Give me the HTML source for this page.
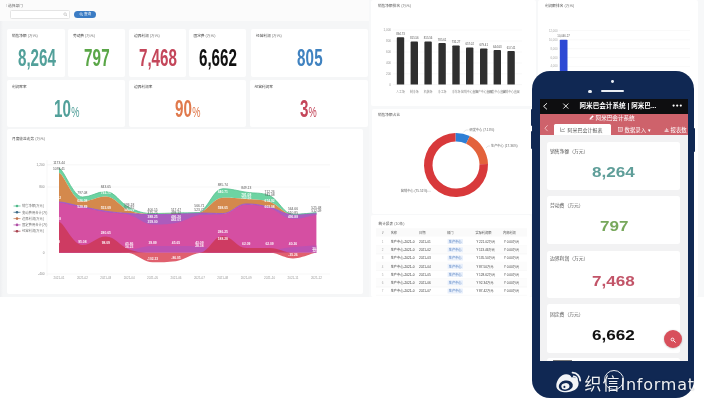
<!DOCTYPE html>
<html><head><meta charset="utf-8">
<style>
*{margin:0;padding:0;box-sizing:border-box}
html,body{width:704px;height:400px;overflow:hidden;background:#fff}
body{position:relative;font-family:"Liberation Sans","Noto Sans CJK SC",sans-serif;color:#333}
.a{position:absolute}
.card{position:absolute;background:#fff;border-radius:2px}
.lbl{position:absolute;font-size:3.7px;line-height:5px;color:#444;white-space:nowrap}
.lbl i{font-style:normal;color:#777}
.num{position:absolute;font-family:"Liberation Sans",sans-serif;font-weight:bold;font-size:23px;line-height:23px;letter-spacing:0.2px;white-space:nowrap;transform-origin:0 0}
.t{position:absolute;white-space:nowrap}
.cm{letter-spacing:-0.6px}
</style></head><body>

<!-- LEFT DASHBOARD -->
<div class="a" style="left:0;top:0;width:369px;height:297px;background:#f5f6f7"></div>
<div class="a" style="left:0;top:21px;width:3px;height:276px;background:linear-gradient(90deg,#eeeff1,#f5f6f7)"></div>
<div class="a" style="left:0;top:0;width:369px;height:21px;background:#fbfbfb"></div>
<div class="lbl" style="left:6px;top:3.6px;font-size:3.7px;color:#666"><span style="color:#999">\</span> 选择部门</div>
<div class="a" style="left:10px;top:10px;width:60px;height:8.5px;background:#fff;border:0.6px solid #e4e4e4;border-radius:1.5px"></div>
<svg class="a" style="left:62.5px;top:12px" width="5" height="5" viewBox="0 0 5 5"><circle cx="2.1" cy="2.1" r="1.3" fill="none" stroke="#aaa" stroke-width="0.5"/><path d="M3.1 3.1 L4.1 4.1" stroke="#aaa" stroke-width="0.6"/></svg>
<div class="a" style="left:74px;top:10.5px;width:21.5px;height:7.3px;background:#3b7cc4;border-radius:4px"></div>
<svg class="a" style="left:79px;top:12.3px" width="5" height="5" viewBox="0 0 5 5"><circle cx="2" cy="2" r="1.2" fill="none" stroke="#fff" stroke-width="0.5"/><path d="M2.9 2.9 L3.8 3.8" stroke="#fff" stroke-width="0.6"/></svg><div class="t" style="left:84px;top:12.2px;font-size:3.6px;line-height:4px;color:#fff">查询</div>

<!-- row 1 cards -->
<div class="card" style="left:7px;top:28.5px;width:58px;height:48.5px"></div>
<div class="card" style="left:68px;top:28.5px;width:57px;height:48.5px"></div>
<div class="card" style="left:129px;top:28.5px;width:57px;height:48.5px"></div>
<div class="card" style="left:188.5px;top:28.5px;width:57.5px;height:48.5px"></div>
<div class="card" style="left:251px;top:28.5px;width:117px;height:48.5px"></div>

<div class="lbl" style="left:12px;top:33.5px">销售净额 <i>(万元)</i></div>
<div class="lbl" style="left:73px;top:33.5px">劳动费 <i>(万元)</i></div>
<div class="lbl" style="left:134px;top:33.5px">边界利润 <i>(万元)</i></div>
<div class="lbl" style="left:193.5px;top:33.5px">固定费 <i>(万元)</i></div>
<div class="lbl" style="left:256px;top:33.5px">经营利润 <i>(万元)</i></div>

<div class="num" style="left:18px;top:46.9px;color:#52a09a;transform:scaleX(0.66)">8<span class="cm">,</span>264</div>
<div class="num" style="left:84px;top:46.9px;color:#5aa647;transform:scaleX(0.66)">797</div>
<div class="num" style="left:139px;top:46.9px;color:#c4465a;transform:scaleX(0.66)">7<span class="cm">,</span>468</div>
<div class="num" style="left:199px;top:46.9px;color:#111;transform:scaleX(0.66)">6<span class="cm">,</span>662</div>
<div class="num" style="left:296.5px;top:46.9px;color:#3f82c0;transform:scaleX(0.66)">805</div>

<!-- row 2 cards -->
<div class="card" style="left:7px;top:79.5px;width:118px;height:47.5px"></div>
<div class="card" style="left:129px;top:79.5px;width:117px;height:47.5px"></div>
<div class="card" style="left:249.5px;top:79.5px;width:118.5px;height:47.5px"></div>
<div class="lbl" style="left:12px;top:84.5px">利润率率</div>
<div class="lbl" style="left:134px;top:84.5px">边界利润率</div>
<div class="lbl" style="left:254.5px;top:84.5px">经营利润率</div>
<div class="num" style="left:53.5px;top:98.2px;color:#52a09a;transform:scaleX(0.66)">10<span style="font-size:14px;font-weight:normal;letter-spacing:0">%</span></div>
<div class="num" style="left:175px;top:98.2px;color:#e0794c;transform:scaleX(0.66)">90<span style="font-size:14px;font-weight:normal;letter-spacing:0">%</span></div>
<div class="num" style="left:299.5px;top:98.2px;color:#c4465a;transform:scaleX(0.66)">3<span style="font-size:14px;font-weight:normal;letter-spacing:0">%</span></div>

<!-- chart card -->
<div class="card" style="left:7px;top:129px;width:355.5px;height:164.5px"></div>
<div class="lbl" style="left:12px;top:137px">月度收益走势 <i>(万元)</i></div>
<svg class="a" style="left:0;top:0" width="369" height="297" viewBox="0 0 369 297">
 <g stroke="#eee" stroke-width="0.5">
  <line x1="47" y1="164.8" x2="330" y2="164.8"/>
  <line x1="47" y1="187" x2="330" y2="187"/>
  <line x1="47" y1="274" x2="330" y2="274"/>
  <line x1="47" y1="160" x2="47" y2="276"/>
 </g>
<path d="M59.0 168.5 C63.7 168.5 73.0 197.0 82.4 197.0 C91.8 197.0 96.4 191.6 105.8 191.6 C115.2 191.6 119.8 203.1 129.2 207.5 C138.6 211.9 143.2 213.5 152.6 213.5 C162.0 213.5 166.6 213.2 176.0 213.0 C185.4 212.8 190.0 213.0 199.4 212.6 C208.8 207.7 213.4 188.7 222.8 188.7 C232.2 188.7 236.8 190.8 246.2 192.2 C255.6 193.6 260.2 192.2 269.6 195.6 C279.0 200.0 283.6 214.3 293.0 214.3 C302.4 214.3 311.7 212.8 316.4 212.8 L316.4 213.0 C311.7 213.0 302.4 214.5 293.0 214.5 C283.6 214.5 279.0 204.9 269.6 201.8 C260.2 199.0 255.6 199.8 246.2 199.0 C236.8 198.2 232.2 197.7 222.8 197.7 C213.4 197.7 208.8 209.7 199.4 212.8 C190.0 213.3 185.4 213.1 176.0 213.3 C166.6 213.5 162.0 213.8 152.6 213.8 C143.2 213.8 138.6 213.8 129.2 210.5 C119.8 207.0 115.2 196.4 105.8 196.4 C96.4 196.4 91.8 201.2 82.4 201.2 C73.0 201.2 63.7 173.0 59.0 173.0 Z" fill="#6dd3a2" fill-opacity="1.00"/>
<path d="M59.0 173.0 C63.7 173.0 73.0 201.2 82.4 201.2 C91.8 201.2 96.4 196.4 105.8 196.4 C115.2 196.4 119.8 207.0 129.2 210.5 C138.6 213.8 143.2 213.8 152.6 213.8 C162.0 213.8 166.6 213.5 176.0 213.3 C185.4 213.1 190.0 213.3 199.4 212.8 C208.8 209.7 213.4 197.7 222.8 197.7 C232.2 197.7 236.8 198.2 246.2 199.0 C255.6 199.8 260.2 199.0 269.6 201.8 C279.0 204.9 283.6 214.5 293.0 214.5 C302.4 214.5 311.7 213.0 316.4 213.0 L316.4 213.2 C311.7 213.2 302.4 214.7 293.0 214.7 C283.6 214.7 279.0 209.5 269.6 207.3 C260.2 205.1 255.6 203.9 246.2 203.9 C236.8 203.9 232.2 213.5 222.8 213.5 C213.4 213.5 208.8 213.0 199.4 213.0 C190.0 213.0 185.4 213.7 176.0 214.0 C166.6 214.3 162.0 214.5 152.6 214.5 C143.2 214.5 138.6 214.2 129.2 213.5 C119.8 212.8 115.2 212.6 105.8 211.2 C96.4 209.8 91.8 208.5 82.4 206.7 C73.0 204.9 63.7 202.0 59.0 202.0 Z" fill="#d4894c" fill-opacity="1.00"/>
<path d="M59.0 202.0 C63.7 202.0 73.0 204.9 82.4 206.7 C91.8 208.5 96.4 209.8 105.8 211.2 C115.2 212.6 119.8 212.8 129.2 213.5 C138.6 214.2 143.2 214.5 152.6 214.5 C162.0 214.5 166.6 214.3 176.0 214.0 C185.4 213.7 190.0 213.0 199.4 213.0 C208.8 213.0 213.4 213.5 222.8 213.5 C232.2 213.5 236.8 203.9 246.2 203.9 C255.6 203.9 260.2 205.1 269.6 207.3 C279.0 209.5 283.6 214.7 293.0 214.7 C302.4 214.7 311.7 213.2 316.4 213.2 L316.4 252.7 C311.7 252.7 302.4 252.7 293.0 252.7 C283.6 252.7 279.0 252.7 269.6 252.7 C260.2 252.7 255.6 252.7 246.2 252.7 C236.8 252.7 232.2 252.7 222.8 252.7 C213.4 252.7 208.8 252.7 199.4 252.7 C190.0 252.7 185.4 252.7 176.0 252.7 C166.6 252.7 162.0 252.7 152.6 252.7 C143.2 252.7 138.6 252.7 129.2 252.7 C119.8 252.7 115.2 252.7 105.8 252.7 C96.4 252.7 91.8 252.7 82.4 252.7 C73.0 252.7 63.7 252.7 59.0 252.7 Z" fill="#d54fa2" fill-opacity="1.00"/>
<path d="M59.0 202.0 C63.7 202.0 73.0 204.9 82.4 206.7 C91.8 208.5 96.4 209.8 105.8 211.2 C115.2 212.6 119.8 212.8 129.2 213.5 C138.6 214.2 143.2 214.5 152.6 214.5 C162.0 214.5 166.6 214.3 176.0 214.0 C185.4 213.7 190.0 213.0 199.4 213.0 C208.8 213.0 213.4 213.5 222.8 213.5 C232.2 213.5 236.8 203.9 246.2 203.9 C255.6 203.9 260.2 205.1 269.6 207.3 C279.0 209.5 283.6 214.7 293.0 214.7 C302.4 214.7 311.7 213.2 316.4 213.2 L316.4 215.0 C311.7 215.0 302.4 219.0 293.0 219.0 C283.6 219.0 279.0 211.0 269.6 208.1 C260.2 205.2 255.6 204.7 246.2 204.7 C236.8 204.7 232.2 212.2 222.8 214.3 C213.4 215.0 208.8 214.3 199.4 215.0 C190.0 216.7 185.4 221.1 176.0 223.0 C166.6 224.5 162.0 224.5 152.6 224.5 C143.2 224.5 138.6 217.3 129.2 214.8 C119.8 212.3 115.2 213.5 105.8 212.0 C96.4 210.5 91.8 209.3 82.4 207.5 C73.0 205.7 63.7 202.8 59.0 202.8 Z" fill="#a55ec2" fill-opacity="0.85"/>
<path d="M59.0 252.0 C63.7 252.0 73.0 252.0 82.4 252.0 C91.8 252.0 96.4 252.0 105.8 252.0 C115.2 252.0 119.8 251.2 129.2 250.0 C138.6 248.8 143.2 246.0 152.6 246.0 C162.0 246.0 166.6 246.0 176.0 246.0 C185.4 246.0 190.0 246.0 199.4 246.5 C208.8 247.3 213.4 250.0 222.8 250.0 C232.2 250.0 236.8 250.0 246.2 250.0 C255.6 250.0 260.2 250.0 269.6 250.0 C279.0 250.0 283.6 247.9 293.0 247.0 C302.4 246.1 311.7 245.5 316.4 245.5 L316.4 252.7 C311.7 252.7 302.4 252.7 293.0 252.7 C283.6 252.7 279.0 252.7 269.6 252.7 C260.2 252.7 255.6 252.7 246.2 252.7 C236.8 252.7 232.2 252.7 222.8 252.7 C213.4 252.7 208.8 252.7 199.4 252.7 C190.0 252.7 185.4 252.7 176.0 252.7 C166.6 252.7 162.0 252.7 152.6 252.7 C143.2 252.7 138.6 252.7 129.2 252.7 C119.8 252.7 115.2 252.7 105.8 252.7 C96.4 252.7 91.8 252.7 82.4 252.7 C73.0 252.7 63.7 252.7 59.0 252.7 Z" fill="#b653b6" fill-opacity="0.80"/>
<path d="M59.0 222.0 C63.7 222.0 73.0 245.0 82.4 245.0 C91.8 245.0 96.4 236.5 105.8 236.5 C115.2 236.5 119.8 246.3 129.2 249.5 C138.6 252.7 143.2 252.7 152.6 252.7 C162.0 252.7 166.6 252.7 176.0 252.7 C185.4 252.7 190.0 252.7 199.4 252.7 C208.8 252.7 213.4 236.0 222.8 236.0 C232.2 236.0 236.8 248.0 246.2 248.0 C255.6 248.0 260.2 248.0 269.6 248.0 C279.0 248.0 283.6 252.7 293.0 252.7 C302.4 252.7 311.7 252.7 316.4 252.7 L316.4 252.7 C311.7 252.7 302.4 252.7 293.0 252.7 C283.6 252.7 279.0 252.7 269.6 252.7 C260.2 252.7 255.6 252.7 246.2 252.7 C236.8 252.7 232.2 252.7 222.8 252.7 C213.4 252.7 208.8 252.7 199.4 252.7 C190.0 252.7 185.4 252.7 176.0 252.7 C166.6 252.7 162.0 252.7 152.6 252.7 C143.2 252.7 138.6 252.7 129.2 252.7 C119.8 252.7 115.2 252.7 105.8 252.7 C96.4 252.7 91.8 252.7 82.4 252.7 C73.0 252.7 63.7 252.7 59.0 252.7 Z" fill="#cd3a5c" fill-opacity="0.92"/>
<path d="M59.0 252.7 C63.7 252.7 73.0 252.7 82.4 252.7 C91.8 252.7 96.4 252.7 105.8 252.7 C115.2 252.7 119.8 252.7 129.2 252.7 C138.6 252.7 143.2 252.7 152.6 252.7 C162.0 252.7 166.6 252.7 176.0 252.7 C185.4 252.7 190.0 252.7 199.4 252.7 C208.8 252.7 213.4 252.7 222.8 252.7 C232.2 252.7 236.8 252.7 246.2 252.7 C255.6 252.7 260.2 252.7 269.6 252.7 C279.0 252.7 283.6 252.7 293.0 252.7 C302.4 252.7 311.7 252.7 316.4 252.7 L316.4 252.7 C311.7 252.7 302.4 258.4 293.0 258.4 C283.6 258.4 279.0 252.7 269.6 252.7 C260.2 252.7 255.6 252.7 246.2 252.7 C236.8 252.7 232.2 252.7 222.8 252.7 C213.4 252.7 208.8 252.7 199.4 253.0 C190.0 254.7 185.4 259.4 176.0 261.2 C166.6 262.2 162.0 262.2 152.6 262.2 C143.2 262.2 138.6 254.9 129.2 253.0 C119.8 252.7 115.2 252.7 105.8 252.7 C96.4 252.7 91.8 252.7 82.4 252.7 C73.0 252.7 63.7 252.7 59.0 252.7 Z" fill="#e0606e" fill-opacity="1.00"/>
<path d="M59.0 202.0 C63.7 202.0 73.0 204.9 82.4 206.7 C91.8 208.5 96.4 209.8 105.8 211.2 C115.2 212.6 119.8 212.8 129.2 213.5 C138.6 214.2 143.2 214.5 152.6 214.5 C162.0 214.5 166.6 214.3 176.0 214.0 C185.4 213.7 190.0 213.0 199.4 213.0 C208.8 213.0 213.4 213.5 222.8 213.5 C232.2 213.5 236.8 203.9 246.2 203.9 C255.6 203.9 260.2 205.1 269.6 207.3 C279.0 209.5 283.6 214.7 293.0 214.7 C302.4 214.7 311.7 213.2 316.4 213.2" fill="none" stroke="#9b59c9" stroke-width="0.9"/>
<path d="M59.0 168.5 C63.7 168.5 73.0 197.0 82.4 197.0 C91.8 197.0 96.4 191.6 105.8 191.6 C115.2 191.6 119.8 203.1 129.2 207.5 C138.6 211.9 143.2 213.5 152.6 213.5 C162.0 213.5 166.6 213.2 176.0 213.0 C185.4 212.8 190.0 213.0 199.4 212.6 C208.8 207.7 213.4 188.7 222.8 188.7 C232.2 188.7 236.8 190.8 246.2 192.2 C255.6 193.6 260.2 192.2 269.6 195.6 C279.0 200.0 283.6 214.3 293.0 214.3 C302.4 214.3 311.7 212.8 316.4 212.8" fill="none" stroke="#56c08e" stroke-width="0.8"/>
<text x="56.0" y="199.1" font-size="3.3" fill="#fff" fill-opacity="0.92" font-weight="bold" text-anchor="middle" font-family="Liberation Sans">986.72</text>
<text x="56.0" y="220.1" font-size="3.3" fill="#fff" fill-opacity="0.92" font-weight="bold" text-anchor="middle" font-family="Liberation Sans">403.38</text>
<text x="56.0" y="243.1" font-size="3.3" fill="#fff" fill-opacity="0.92" font-weight="bold" text-anchor="middle" font-family="Liberation Sans">75.08</text>
<text x="82.4" y="201.6" font-size="3.3" fill="#fff" fill-opacity="0.92" font-weight="bold" text-anchor="middle" font-family="Liberation Sans">626.08</text>
<text x="82.4" y="207.5" font-size="3.3" fill="#fff" fill-opacity="0.92" font-weight="bold" text-anchor="middle" font-family="Liberation Sans">528.89</text>
<text x="82.4" y="243.1" font-size="3.3" fill="#fff" fill-opacity="0.92" font-weight="bold" text-anchor="middle" font-family="Liberation Sans">95.08</text>
<text x="105.8" y="193.5" font-size="3.3" fill="#fff" fill-opacity="0.92" font-weight="bold" text-anchor="middle" font-family="Liberation Sans">792.71</text>
<text x="105.8" y="209.1" font-size="3.3" fill="#fff" fill-opacity="0.92" font-weight="bold" text-anchor="middle" font-family="Liberation Sans">553.09</text>
<text x="105.8" y="234.1" font-size="3.3" fill="#fff" fill-opacity="0.92" font-weight="bold" text-anchor="middle" font-family="Liberation Sans">280.65</text>
<text x="105.8" y="243.9" font-size="3.3" fill="#fff" fill-opacity="0.92" font-weight="bold" text-anchor="middle" font-family="Liberation Sans">98.09</text>
<text x="129.2" y="211.4" font-size="3.3" fill="#fff" fill-opacity="0.92" font-weight="bold" text-anchor="middle" font-family="Liberation Sans">523.09</text>
<text x="129.2" y="244.6" font-size="3.3" fill="#fff" fill-opacity="0.92" font-weight="bold" text-anchor="middle" font-family="Liberation Sans">45.86</text>
<text x="129.2" y="247.8" font-size="3.3" fill="#fff" fill-opacity="0.92" font-weight="bold" text-anchor="middle" font-family="Liberation Sans">36.23</text>
<text x="152.6" y="217.9" font-size="3.3" fill="#fff" fill-opacity="0.92" font-weight="bold" text-anchor="middle" font-family="Liberation Sans">388.25</text>
<text x="152.6" y="222.8" font-size="3.3" fill="#fff" fill-opacity="0.92" font-weight="bold" text-anchor="middle" font-family="Liberation Sans">359.00</text>
<text x="152.6" y="243.9" font-size="3.3" fill="#fff" fill-opacity="0.92" font-weight="bold" text-anchor="middle" font-family="Liberation Sans">39.89</text>
<text x="152.6" y="259.5" font-size="3.3" fill="#fff" fill-opacity="0.92" font-weight="bold" text-anchor="middle" font-family="Liberation Sans">-102.23</text>
<text x="176.0" y="217.9" font-size="3.3" fill="#fff" fill-opacity="0.92" font-weight="bold" text-anchor="middle" font-family="Liberation Sans">496.26</text>
<text x="176.0" y="221.1" font-size="3.3" fill="#fff" fill-opacity="0.92" font-weight="bold" text-anchor="middle" font-family="Liberation Sans">482.05</text>
<text x="176.0" y="243.9" font-size="3.3" fill="#fff" fill-opacity="0.92" font-weight="bold" text-anchor="middle" font-family="Liberation Sans">45.65</text>
<text x="176.0" y="258.5" font-size="3.3" fill="#fff" fill-opacity="0.92" font-weight="bold" text-anchor="middle" font-family="Liberation Sans">-86.05</text>
<text x="199.4" y="210.6" font-size="3.3" fill="#fff" fill-opacity="0.92" font-weight="bold" text-anchor="middle" font-family="Liberation Sans">522.71</text>
<text x="199.4" y="244.1" font-size="3.3" fill="#fff" fill-opacity="0.92" font-weight="bold" text-anchor="middle" font-family="Liberation Sans">43.09</text>
<text x="199.4" y="247.1" font-size="3.3" fill="#fff" fill-opacity="0.92" font-weight="bold" text-anchor="middle" font-family="Liberation Sans">28.38</text>
<text x="222.8" y="193.1" font-size="3.3" fill="#fff" fill-opacity="0.92" font-weight="bold" text-anchor="middle" font-family="Liberation Sans">840.71</text>
<text x="222.8" y="208.6" font-size="3.3" fill="#fff" fill-opacity="0.92" font-weight="bold" text-anchor="middle" font-family="Liberation Sans">598.05</text>
<text x="222.8" y="233.1" font-size="3.3" fill="#fff" fill-opacity="0.92" font-weight="bold" text-anchor="middle" font-family="Liberation Sans">286.25</text>
<text x="222.8" y="240.1" font-size="3.3" fill="#fff" fill-opacity="0.92" font-weight="bold" text-anchor="middle" font-family="Liberation Sans">188.28</text>
<text x="246.2" y="195.6" font-size="3.3" fill="#fff" fill-opacity="0.92" font-weight="bold" text-anchor="middle" font-family="Liberation Sans">781.08</text>
<text x="246.2" y="199.1" font-size="3.3" fill="#fff" fill-opacity="0.92" font-weight="bold" text-anchor="middle" font-family="Liberation Sans">753.56</text>
<text x="246.2" y="244.6" font-size="3.3" fill="#fff" fill-opacity="0.92" font-weight="bold" text-anchor="middle" font-family="Liberation Sans">62.09</text>
<text x="269.6" y="202.1" font-size="3.3" fill="#fff" fill-opacity="0.92" font-weight="bold" text-anchor="middle" font-family="Liberation Sans">674.92</text>
<text x="269.6" y="207.6" font-size="3.3" fill="#fff" fill-opacity="0.92" font-weight="bold" text-anchor="middle" font-family="Liberation Sans">603.08</text>
<text x="269.6" y="244.6" font-size="3.3" fill="#fff" fill-opacity="0.92" font-weight="bold" text-anchor="middle" font-family="Liberation Sans">62.09</text>
<text x="293.0" y="217.6" font-size="3.3" fill="#fff" fill-opacity="0.92" font-weight="bold" text-anchor="middle" font-family="Liberation Sans">496.88</text>
<text x="293.0" y="244.6" font-size="3.3" fill="#fff" fill-opacity="0.92" font-weight="bold" text-anchor="middle" font-family="Liberation Sans">40.26</text>
<text x="293.0" y="255.6" font-size="3.3" fill="#fff" fill-opacity="0.92" font-weight="bold" text-anchor="middle" font-family="Liberation Sans">-35.26</text>
<text x="316.4" y="250.1" font-size="3.3" fill="#fff" fill-opacity="0.92" font-weight="bold" text-anchor="middle" font-family="Liberation Sans">30.29</text>
<text x="316.4" y="252.1" font-size="3.3" fill="#fff" fill-opacity="0.92" font-weight="bold" text-anchor="middle" font-family="Liberation Sans">12.05</text>
 <g font-size="3.2" fill="#888" font-family="Liberation Sans">
  <text x="44.5" y="166" text-anchor="end">1,200</text>
  <text x="44.5" y="188.2" text-anchor="end">800</text>
  <text x="44.5" y="254.2" text-anchor="end">0</text>
  <text x="44.5" y="275.2" text-anchor="end">-400</text>
 </g>
 <g font-size="3" fill="#999" font-family="Liberation Sans" text-anchor="middle">
  <text x="59" y="279.2">2021-01</text><text x="82.4" y="279.2">2021-02</text><text x="105.8" y="279.2">2021-03</text>
  <text x="129.2" y="279.2">2021-04</text><text x="152.6" y="279.2">2021-05</text><text x="176" y="279.2">2021-06</text>
  <text x="199.4" y="279.2">2021-07</text><text x="222.8" y="279.2">2021-08</text><text x="246.2" y="279.2">2021-09</text>
  <text x="269.6" y="279.2">2021-10</text><text x="293" y="279.2">2021-11</text><text x="316.4" y="279.2">2021-12</text>
 </g>
 <g font-size="3.3" fill="#555" font-family="Liberation Sans" text-anchor="middle">
  <text x="59" y="163.6">1173.44</text><text x="59" y="169.6">1093.41</text>
  <text x="82.4" y="194.2">797.08</text><text x="105.8" y="188.2">843.65</text>
  <text x="129.2" y="205.6">596.18</text><text x="129.2" y="209.4">575.92</text>
  <text x="152.6" y="210.6">400.15</text><text x="152.6" y="214.2">375.75</text>
  <text x="176" y="210.6">517.47</text><text x="176" y="214.2">493.12</text>
  <text x="199.4" y="207.2">566.71</text><text x="199.4" y="210.8">523.71</text>
  <text x="222.8" y="185.6">885.74</text><text x="246.2" y="189.2">849.13</text>
  <text x="269.6" y="192.6">712.26</text><text x="269.6" y="196.4">741.08</text>
  <text x="293" y="210.2">564.66</text><text x="293" y="213.6">510.85</text>
  <text x="316.4" y="208.6">525.48</text><text x="316.4" y="212">512.09</text>
 </g>
 <!-- legend -->
 <g stroke-width="0.7">
  <line x1="13.5" y1="206" x2="20.5" y2="206" stroke="#4fb98a"/><circle cx="17" cy="206" r="1.3" fill="#4fb98a"/>
  <line x1="13.5" y1="212.3" x2="20.5" y2="212.3" stroke="#3d6b88"/><circle cx="17" cy="212.3" r="1.3" fill="#3d6b88"/>
  <line x1="13.5" y1="218.6" x2="20.5" y2="218.6" stroke="#c0724c"/><circle cx="17" cy="218.6" r="1.3" fill="#c0724c"/>
  <line x1="13.5" y1="224.9" x2="20.5" y2="224.9" stroke="#b04fa6"/><circle cx="17" cy="224.9" r="1.3" fill="#b04fa6"/>
  <line x1="13.5" y1="231.2" x2="20.5" y2="231.2" stroke="#a8424f"/><circle cx="17" cy="231.2" r="1.3" fill="#a8424f"/>
 </g>
 <g font-size="3.3" fill="#777" font-family="Liberation Sans,Noto Sans CJK SC">
  <text x="22" y="207.2">销售净额(万元)</text>
  <text x="22" y="213.5">变动费用合计(万)</text>
  <text x="22" y="219.8">边界利润(万元)</text>
  <text x="22" y="226.1">固定费用合计(万)</text>
  <text x="22" y="232.4">经营利润(万元)</text>
 </g>
</svg>

<!-- MIDDLE / RIGHT DASHBOARD -->
<div class="a" style="left:369px;top:0;width:335px;height:297px;background:#f7f8f9"></div>
<div class="card" style="left:371px;top:0;width:165px;height:106px"></div>
<div class="card" style="left:371.5px;top:108.5px;width:164px;height:105px"></div>
<div class="card" style="left:371px;top:215px;width:160px;height:82px"></div>
<div class="card" style="left:538px;top:0;width:160px;height:297px"></div>


<!-- bar chart card content -->
<div class="lbl" style="left:378px;top:3.5px;color:#555">销售净额排名 <i>(万元)</i></div>
<svg class="a" style="left:369px;top:0" width="335" height="297" viewBox="369 0 335 297">
 <g stroke="#f0f0f0" stroke-width="0.5">
  <line x1="393" y1="30" x2="522" y2="30"/><line x1="393" y1="41" x2="522" y2="41"/>
  <line x1="393" y1="52" x2="522" y2="52"/><line x1="393" y1="63" x2="522" y2="63"/>
  <line x1="393" y1="73.8" x2="522" y2="73.8"/><line x1="393" y1="84.6" x2="522" y2="84.6"/>
 </g>
 <g font-size="3" fill="#999" font-family="Liberation Sans" text-anchor="end">
  <text x="391" y="31">1,000</text><text x="391" y="42">800</text><text x="391" y="53">600</text>
  <text x="391" y="64">400</text><text x="391" y="74.8">200</text><text x="391" y="85.6">0</text>
 </g>
 <path d="M396.8 84.6 V38.1 q0 -0.9 0.9 -0.9 h5.6 q0.9 0 0.9 0.9 V84.6 Z" fill="#2f2f2f"/>
<text x="400.5" y="35.0" font-size="2.8" fill="#555" text-anchor="middle" font-family="Liberation Sans">894.73</text>
<path d="M410.6 84.6 V42.5 q0 -0.9 0.9 -0.9 h5.6 q0.9 0 0.9 0.9 V84.6 Z" fill="#2f2f2f"/>
<text x="414.3" y="39.4" font-size="2.8" fill="#555" text-anchor="middle" font-family="Liberation Sans">815.56</text>
<path d="M424.4 84.6 V42.5 q0 -0.9 0.9 -0.9 h5.6 q0.9 0 0.9 0.9 V84.6 Z" fill="#2f2f2f"/>
<text x="428.1" y="39.4" font-size="2.8" fill="#555" text-anchor="middle" font-family="Liberation Sans">815.56</text>
<path d="M438.4 84.6 V43.9 q0 -0.9 0.9 -0.9 h5.6 q0.9 0 0.9 0.9 V84.6 Z" fill="#2f2f2f"/>
<text x="442.1" y="40.8" font-size="2.8" fill="#555" text-anchor="middle" font-family="Liberation Sans">785.61</text>
<path d="M452.3 84.6 V46.3 q0 -0.9 0.9 -0.9 h5.6 q0.9 0 0.9 0.9 V84.6 Z" fill="#2f2f2f"/>
<text x="456.0" y="43.2" font-size="2.8" fill="#555" text-anchor="middle" font-family="Liberation Sans">731.27</text>
<path d="M466.0 84.6 V48.4 q0 -0.9 0.9 -0.9 h5.6 q0.9 0 0.9 0.9 V84.6 Z" fill="#2f2f2f"/>
<text x="469.7" y="45.3" font-size="2.8" fill="#555" text-anchor="middle" font-family="Liberation Sans">657.02</text>
<path d="M480.0 84.6 V49.3 q0 -0.9 0.9 -0.9 h5.6 q0.9 0 0.9 0.9 V84.6 Z" fill="#2f2f2f"/>
<text x="483.7" y="46.2" font-size="2.8" fill="#555" text-anchor="middle" font-family="Liberation Sans">679.41</text>
<path d="M493.6 84.6 V50.9 q0 -0.9 0.9 -0.9 h5.6 q0.9 0 0.9 0.9 V84.6 Z" fill="#2f2f2f"/>
<text x="497.3" y="47.8" font-size="2.8" fill="#555" text-anchor="middle" font-family="Liberation Sans">644.63</text>
<path d="M507.4 84.6 V51.9 q0 -0.9 0.9 -0.9 h5.6 q0.9 0 0.9 0.9 V84.6 Z" fill="#2f2f2f"/>
<text x="511.1" y="48.8" font-size="2.8" fill="#555" text-anchor="middle" font-family="Liberation Sans">617.41</text>
<text x="400.5" y="93.2" font-size="2.9" fill="#888" text-anchor="middle" font-family="Liberation Sans,Noto Sans CJK SC">人工场</text>
<text x="414.3" y="93.2" font-size="2.9" fill="#888" text-anchor="middle" font-family="Liberation Sans,Noto Sans CJK SC">制冷场</text>
<text x="428.1" y="93.2" font-size="2.9" fill="#888" text-anchor="middle" font-family="Liberation Sans,Noto Sans CJK SC">机装场</text>
<text x="442.1" y="93.2" font-size="2.9" fill="#888" text-anchor="middle" font-family="Liberation Sans,Noto Sans CJK SC">冷工场</text>
<text x="456.0" y="93.2" font-size="2.9" fill="#888" text-anchor="middle" font-family="Liberation Sans,Noto Sans CJK SC">冷冻场</text>
<text x="469.7" y="93.2" font-size="2.9" fill="#888" text-anchor="middle" font-family="Liberation Sans,Noto Sans CJK SC">营销中心直属</text>
<text x="483.7" y="93.2" font-size="2.9" fill="#888" text-anchor="middle" font-family="Liberation Sans,Noto Sans CJK SC">生产中心直属</text>
<text x="497.3" y="93.2" font-size="2.9" fill="#888" text-anchor="middle" font-family="Liberation Sans,Noto Sans CJK SC">研发中心直属</text>
<text x="511.1" y="93.2" font-size="2.9" fill="#888" text-anchor="middle" font-family="Liberation Sans,Noto Sans CJK SC">营销中心直属</text>
 <!-- right card chart -->
 <g stroke="#f2f2f2" stroke-width="0.5">
  <line x1="559" y1="30.5" x2="690" y2="30.5"/><line x1="559" y1="39.8" x2="690" y2="39.8"/>
  <line x1="559" y1="48.6" x2="690" y2="48.6"/><line x1="559" y1="57.5" x2="690" y2="57.5"/>
  <line x1="559" y1="66.4" x2="690" y2="66.4"/>
 </g>
 <g font-size="2.8" fill="#aaa" font-family="Liberation Sans" text-anchor="end">
  <text x="557.5" y="31.5">12,000</text><text x="557.5" y="40.8">10,000</text><text x="557.5" y="49.6">8,000</text>
  <text x="557.5" y="58.5">6,000</text><text x="557.5" y="67.4">4,000</text>
 </g>
 <rect x="559.8" y="39.8" width="7.7" height="40" fill="#2d49d4" rx="0.8"/>
 <text x="563.6" y="37" font-size="2.8" fill="#666" text-anchor="middle" font-family="Liberation Sans">10,046.27</text>
 <!-- donut -->
 <path d="M455.44 133.00 A32.0 32.0 0 0 1 469.78 136.12 L466.12 143.79 A23.5 23.5 0 0 0 455.59 141.50 Z" fill="#2e7fd5"/>
<path d="M469.78 136.12 A32.0 32.0 0 0 1 487.98 163.88 L479.49 164.18 A23.5 23.5 0 0 0 466.12 143.79 Z" fill="#e3623b"/>
<path d="M487.98 163.88 A32.0 32.0 0 1 1 455.44 133.00 L455.59 141.50 A23.5 23.5 0 1 0 479.49 164.18 Z" fill="#d8393b"/>
 <g stroke="#bbb" stroke-width="0.4" fill="none">
  <polyline points="463.5,132 466,130 468.5,130"/>
  <polyline points="486,148 488,146 490,146"/>
  <polyline points="424.5,189 427,191.3 431,191.3"/>
 </g>
 <g font-size="3.2" fill="#666" font-family="Liberation Sans,Noto Sans CJK SC">
  <text x="469.5" y="130.8">研发中心 (7.13%)</text>
  <text x="491" y="146.8">生产中心 (17.36%)</text>
  <text x="400.8" y="192.4">营销中心 (75.51%)</text>
 </g>
 <rect x="376" y="228.3" width="151" height="8.3" fill="#fafafa"/>
<text x="381.7" y="233.8" font-size="3.2" fill="#555" font-family="Liberation Sans,Noto Sans CJK SC">#</text>
<text x="390.7" y="233.8" font-size="3.2" fill="#555" font-family="Liberation Sans,Noto Sans CJK SC">名称</text>
<text x="419.0" y="233.8" font-size="3.2" fill="#555" font-family="Liberation Sans,Noto Sans CJK SC">日期</text>
<text x="447.0" y="233.8" font-size="3.2" fill="#555" font-family="Liberation Sans,Noto Sans CJK SC">部门</text>
<text x="475.5" y="233.8" font-size="3.2" fill="#555" font-family="Liberation Sans,Noto Sans CJK SC">实际利润额</text>
<text x="503.0" y="233.8" font-size="3.2" fill="#555" font-family="Liberation Sans,Noto Sans CJK SC">内部利润</text>
<line x1="376" y1="245.8" x2="527" y2="245.8" stroke="#f0f0f0" stroke-width="0.4"/>
<text x="381.7" y="242.8" font-size="3" fill="#aaa" font-family="Liberation Sans">1</text>
<text x="390.7" y="242.8" font-size="3.2" fill="#333" font-family="Liberation Sans,Noto Sans CJK SC">生产中心-2021-0</text>
<text x="419" y="242.8" font-size="3.2" fill="#444" font-family="Liberation Sans">2021-01</text>
<rect x="447.5" y="239.1" width="15.5" height="5" rx="0.6" fill="#e9f0fb"/>
<text x="448.8" y="242.8" font-size="3.2" fill="#4a78bd" font-family="Liberation Sans,Noto Sans CJK SC">生产中心</text>
<text x="476.4" y="242.8" font-size="3.2" fill="#444" font-family="Liberation Sans,Noto Sans CJK SC">¥ 221.02万元</text>
<text x="504" y="242.8" font-size="3.2" fill="#444" font-family="Liberation Sans,Noto Sans CJK SC">¥ 0.00万元</text>
<rect x="376" y="245.8" width="151" height="8.25" fill="#fcfcfc"/>
<line x1="376" y1="254.0" x2="527" y2="254.0" stroke="#f0f0f0" stroke-width="0.4"/>
<text x="381.7" y="251.0" font-size="3" fill="#aaa" font-family="Liberation Sans">2</text>
<text x="390.7" y="251.0" font-size="3.2" fill="#333" font-family="Liberation Sans,Noto Sans CJK SC">生产中心-2021-0</text>
<text x="419" y="251.0" font-size="3.2" fill="#444" font-family="Liberation Sans">2021-02</text>
<rect x="447.5" y="247.3" width="15.5" height="5" rx="0.6" fill="#e9f0fb"/>
<text x="448.8" y="251.0" font-size="3.2" fill="#4a78bd" font-family="Liberation Sans,Noto Sans CJK SC">生产中心</text>
<text x="476.4" y="251.0" font-size="3.2" fill="#444" font-family="Liberation Sans,Noto Sans CJK SC">¥ 113.46万元</text>
<text x="504" y="251.0" font-size="3.2" fill="#444" font-family="Liberation Sans,Noto Sans CJK SC">¥ 0.00万元</text>
<line x1="376" y1="262.3" x2="527" y2="262.3" stroke="#f0f0f0" stroke-width="0.4"/>
<text x="381.7" y="259.3" font-size="3" fill="#aaa" font-family="Liberation Sans">3</text>
<text x="390.7" y="259.3" font-size="3.2" fill="#333" font-family="Liberation Sans,Noto Sans CJK SC">生产中心-2021-0</text>
<text x="419" y="259.3" font-size="3.2" fill="#444" font-family="Liberation Sans">2021-03</text>
<rect x="447.5" y="255.6" width="15.5" height="5" rx="0.6" fill="#e9f0fb"/>
<text x="448.8" y="259.3" font-size="3.2" fill="#4a78bd" font-family="Liberation Sans,Noto Sans CJK SC">生产中心</text>
<text x="476.4" y="259.3" font-size="3.2" fill="#444" font-family="Liberation Sans,Noto Sans CJK SC">¥ 135.50万元</text>
<text x="504" y="259.3" font-size="3.2" fill="#444" font-family="Liberation Sans,Noto Sans CJK SC">¥ 0.00万元</text>
<rect x="376" y="262.3" width="151" height="8.25" fill="#fcfcfc"/>
<line x1="376" y1="270.6" x2="527" y2="270.6" stroke="#f0f0f0" stroke-width="0.4"/>
<text x="381.7" y="267.6" font-size="3" fill="#aaa" font-family="Liberation Sans">4</text>
<text x="390.7" y="267.6" font-size="3.2" fill="#333" font-family="Liberation Sans,Noto Sans CJK SC">生产中心-2021-0</text>
<text x="419" y="267.6" font-size="3.2" fill="#444" font-family="Liberation Sans">2021-04</text>
<rect x="447.5" y="263.8" width="15.5" height="5" rx="0.6" fill="#e9f0fb"/>
<text x="448.8" y="267.6" font-size="3.2" fill="#4a78bd" font-family="Liberation Sans,Noto Sans CJK SC">生产中心</text>
<text x="476.4" y="267.6" font-size="3.2" fill="#444" font-family="Liberation Sans,Noto Sans CJK SC">¥ 87.50万元</text>
<text x="504" y="267.6" font-size="3.2" fill="#444" font-family="Liberation Sans,Noto Sans CJK SC">¥ 0.00万元</text>
<line x1="376" y1="278.8" x2="527" y2="278.8" stroke="#f0f0f0" stroke-width="0.4"/>
<text x="381.7" y="275.8" font-size="3" fill="#aaa" font-family="Liberation Sans">5</text>
<text x="390.7" y="275.8" font-size="3.2" fill="#333" font-family="Liberation Sans,Noto Sans CJK SC">生产中心-2021-0</text>
<text x="419" y="275.8" font-size="3.2" fill="#444" font-family="Liberation Sans">2021-05</text>
<rect x="447.5" y="272.1" width="15.5" height="5" rx="0.6" fill="#e9f0fb"/>
<text x="448.8" y="275.8" font-size="3.2" fill="#4a78bd" font-family="Liberation Sans,Noto Sans CJK SC">生产中心</text>
<text x="476.4" y="275.8" font-size="3.2" fill="#444" font-family="Liberation Sans,Noto Sans CJK SC">¥ 128.62万元</text>
<text x="504" y="275.8" font-size="3.2" fill="#444" font-family="Liberation Sans,Noto Sans CJK SC">¥ 0.00万元</text>
<rect x="376" y="278.8" width="151" height="8.25" fill="#fcfcfc"/>
<line x1="376" y1="287.1" x2="527" y2="287.1" stroke="#f0f0f0" stroke-width="0.4"/>
<text x="381.7" y="284.1" font-size="3" fill="#aaa" font-family="Liberation Sans">6</text>
<text x="390.7" y="284.1" font-size="3.2" fill="#333" font-family="Liberation Sans,Noto Sans CJK SC">生产中心-2021-0</text>
<text x="419" y="284.1" font-size="3.2" fill="#444" font-family="Liberation Sans">2021-06</text>
<rect x="447.5" y="280.3" width="15.5" height="5" rx="0.6" fill="#e9f0fb"/>
<text x="448.8" y="284.1" font-size="3.2" fill="#4a78bd" font-family="Liberation Sans,Noto Sans CJK SC">生产中心</text>
<text x="476.4" y="284.1" font-size="3.2" fill="#444" font-family="Liberation Sans,Noto Sans CJK SC">¥ 92.34万元</text>
<text x="504" y="284.1" font-size="3.2" fill="#444" font-family="Liberation Sans,Noto Sans CJK SC">¥ 0.00万元</text>
<line x1="376" y1="295.3" x2="527" y2="295.3" stroke="#f0f0f0" stroke-width="0.4"/>
<text x="381.7" y="292.3" font-size="3" fill="#aaa" font-family="Liberation Sans">7</text>
<text x="390.7" y="292.3" font-size="3.2" fill="#333" font-family="Liberation Sans,Noto Sans CJK SC">生产中心-2021-0</text>
<text x="419" y="292.3" font-size="3.2" fill="#444" font-family="Liberation Sans">2021-07</text>
<rect x="447.5" y="288.6" width="15.5" height="5" rx="0.6" fill="#e9f0fb"/>
<text x="448.8" y="292.3" font-size="3.2" fill="#4a78bd" font-family="Liberation Sans,Noto Sans CJK SC">生产中心</text>
<text x="476.4" y="292.3" font-size="3.2" fill="#444" font-family="Liberation Sans,Noto Sans CJK SC">¥ 87.42万元</text>
<text x="504" y="292.3" font-size="3.2" fill="#444" font-family="Liberation Sans,Noto Sans CJK SC">¥ 0.00万元</text>
</svg>
<div class="lbl" style="left:378px;top:112.5px;color:#555">销售净额占比</div>
<div class="lbl" style="left:545px;top:3.5px;color:#555">利润额排名 <i>(万元)</i></div>
<div class="lbl" style="left:378.5px;top:222px;color:#555">统计报表 <i>(10条)</i></div>

<!-- PHONE -->
<div class="a" style="left:530.8px;top:109px;width:2px;height:17px;background:#102853;border-radius:1px"></div>
<div class="a" style="left:530.8px;top:131px;width:2px;height:18px;background:#102853;border-radius:1px"></div>
<div class="a" style="left:693px;top:128px;width:2px;height:24px;background:#102853;border-radius:1px"></div>
<div class="a" style="left:532.2px;top:71.2px;width:161.8px;height:327px;background:#102853;border-radius:18px"></div>
<div class="a" style="left:611.4px;top:80.2px;width:2.8px;height:2.8px;background:#e9eef5;border-radius:50%"></div>
<div class="a" style="left:588.4px;top:89.7px;width:3.2px;height:3.2px;background:#e9eef5;border-radius:50%"></div>
<div class="a" style="left:601px;top:90.3px;width:23px;height:2px;background:#e9eef5;border-radius:1px"></div>
<!-- screen -->
<div class="a" style="left:540px;top:99.3px;width:147.6px;height:261.7px;background:#f2f2f3;overflow:hidden">
  <div class="a" style="left:0;top:0;width:148px;height:14.7px;background:#0e0e10"></div>
  <svg class="a" style="left:0;top:0" width="148" height="15"><path d="M7 4.2 L3.6 7.3 L7 10.4" fill="none" stroke="#fff" stroke-width="0.9"/><path d="M23.3 4.6 L28.3 9.6 M28.3 4.6 L23.3 9.6" stroke="#fff" stroke-width="0.9"/><circle cx="133.6" cy="6.6" r="1.1" fill="#fff"/><circle cx="137.2" cy="6.6" r="1.1" fill="#fff"/><circle cx="140.8" cy="6.6" r="1.1" fill="#fff"/></svg>
    <div class="t" style="left:39.5px;top:3px;font-size:6.6px;line-height:8px;color:#fff;font-weight:bold;font-family:'Liberation Sans','Noto Sans CJK SC',sans-serif">阿米巴会计系统 | 阿米巴...</div>
    <div class="a" style="left:0;top:14.7px;width:148px;height:21px;background:#ce626b"></div>
  <div class="t" style="left:49px;top:15.8px;font-size:5.6px;line-height:6.5px;color:#fff"><svg width="5" height="5" viewBox="0 0 5 5" style="vertical-align:-0.3px"><path d="M0.8 4.3 L1 3.2 L3.6 0.6 L4.5 1.5 L1.9 4.1 Z M0.5 4.7 H4.6" fill="#fff" stroke="#fff" stroke-width="0.35"/></svg> 阿米巴会计系统</div>
  <svg class="a" style="left:0;top:20px" width="14" height="16"><path d="M7.6 6.3 L4.9 9.2 L7.6 12.1" fill="none" stroke="#f6cdd0" stroke-width="0.8"/></svg>
  <div class="a" style="left:14px;top:24.9px;width:56.7px;height:10.8px;background:#fff;border-radius:1.5px 1.5px 0 0"></div>
  <div class="t" style="left:19.5px;top:27.7px;font-size:5px;line-height:6px;color:#555;word-spacing:1.5px"><svg width="5" height="5" viewBox="0 0 5 5" style="vertical-align:-0.5px"><path d="M0.5 0.5 V4.5 H4.8 M1.2 3.6 L2.4 2.2 L3.3 3 L4.7 1.2" fill="none" stroke="#666" stroke-width="0.5"/></svg> 阿米巴会计报表</div>
  <div class="t" style="left:78px;top:27.5px;font-size:5.4px;line-height:6px;color:#fff"><svg width="5" height="5" viewBox="0 0 5 5" style="vertical-align:-0.5px"><rect x="0.5" y="0.6" width="4" height="3.9" fill="none" stroke="#fff" stroke-width="0.5"/><path d="M1.3 1.9 H3.7 M1.3 3.2 H3.7" stroke="#fff" stroke-width="0.5"/></svg> 数据录入 &#9662;</div>
  <div class="t" style="left:124px;top:27.5px;font-size:5.4px;line-height:6px;color:#fff"><svg width="5" height="5" viewBox="0 0 5 5" style="vertical-align:-0.5px"><path d="M0.5 4.5 H4.8 M1.3 4.3 V2.6 M2.5 4.3 V1.2 M3.7 4.3 V2" fill="none" stroke="#fff" stroke-width="0.6"/></svg> 报表数</div>
  <!-- cards -->
  <div class="a" style="left:6.5px;top:42.7px;width:133.5px;height:48px;background:#fff;border-radius:2.5px"></div>
  <div class="a" style="left:6.5px;top:96.7px;width:133.5px;height:48px;background:#fff;border-radius:2.5px"></div>
  <div class="a" style="left:6.5px;top:151.7px;width:133.5px;height:47px;background:#fff;border-radius:2.5px"></div>
  <div class="a" style="left:6.5px;top:205px;width:133.5px;height:48.5px;background:#fff;border-radius:2.5px"></div>
  <div class="a" style="left:6.5px;top:258.3px;width:133.5px;height:10px;background:#fff;border-radius:2.5px"></div>
  <div class="a" style="left:13px;top:260.6px;width:19px;height:1.1px;background:#777"></div>
  <div class="t" style="left:10px;top:49.5px;font-size:4.8px;line-height:5px;color:#555">销售净额（万元）</div>
  <div class="t" style="left:10px;top:103.5px;font-size:4.8px;line-height:5px;color:#555">劳动费（万元）</div>
  <div class="t" style="left:10px;top:156.5px;font-size:4.8px;line-height:5px;color:#555">边界利润（万元）</div>
  <div class="t" style="left:10px;top:212.5px;font-size:4.8px;line-height:5px;color:#555">固定费（万元）</div>
  <div class="t" style="left:52px;top:64.5px;font-size:14.6px;line-height:16px;font-weight:bold;letter-spacing:0;transform:scaleX(1.17);transform-origin:0 0;color:#5f9e99">8,264</div>
  <div class="t" style="left:60px;top:119px;font-size:14.6px;line-height:16px;font-weight:bold;letter-spacing:0;transform:scaleX(1.17);transform-origin:0 0;color:#78a85c">797</div>
  <div class="t" style="left:52px;top:173.5px;font-size:14.6px;line-height:16px;font-weight:bold;letter-spacing:0;transform:scaleX(1.17);transform-origin:0 0;color:#c25468">7,468</div>
  <div class="t" style="left:52px;top:227.5px;font-size:14.6px;line-height:16px;font-weight:bold;letter-spacing:0;transform:scaleX(1.17);transform-origin:0 0;color:#111">6,662</div>
  <div class="a" style="left:123.8px;top:231px;width:18px;height:18px;background:#d84f5b;border-radius:50%;box-shadow:0 0.5px 2px rgba(0,0,0,0.25)"></div>
  <svg class="a" style="left:129.2px;top:236.6px" width="8" height="8" viewBox="0 0 8 8"><circle cx="3.5" cy="3.5" r="1.4" fill="none" stroke="#fff" stroke-width="0.9"/><path d="M4.8 4.8 L6.3 6.3" stroke="#fff" stroke-width="1" stroke-linecap="round"/></svg>
</div>
<!-- home button + watermark -->
<div class="a" style="left:604px;top:369.5px;width:20px;height:20px;border:0.9px solid #e8ecf2;border-radius:50%"></div>
<svg class="a" style="left:550px;top:365px" width="40" height="32" viewBox="550 365 40 32">
  <path d="M556.3 386.2 C556 380.5 561 374.4 566 374.3 C568.8 374.2 570.6 375.3 571.6 377.4 C575.2 376.6 578.6 379.4 578.6 383.6 C578.6 389 572.4 392.3 566.5 392.3 C560.6 392.3 556.5 390 556.3 386.2 Z" fill="#f2f4f7"/>
 <ellipse cx="565.8" cy="385.7" rx="7.1" ry="5.2" transform="rotate(-10 565.8 385.7)" fill="#102853"/>
 <ellipse cx="565.4" cy="386.3" rx="4.1" ry="3.2" transform="rotate(-10 565.4 386.3)" fill="#f2f4f7"/>
 <circle cx="564.4" cy="386.9" r="1.05" fill="#102853"/>
 <path d="M572.6 372.6 A8 8 0 0 1 580.2 380.6" fill="none" stroke="#f2f4f7" stroke-width="1.9" stroke-linecap="round"/>
 <path d="M573.6 376.3 A3.9 3.9 0 0 1 577.1 379.9" fill="none" stroke="#f2f4f7" stroke-width="1.6" stroke-linecap="round"/>
</svg>
<div class="t" style="left:584.5px;top:373px;font-size:17px;line-height:20px;color:#eef1f5;font-family:'Noto Sans CJK SC',sans-serif;font-weight:400;letter-spacing:1px;text-shadow:0 0 1.5px rgba(0,0,0,0.45)">织信<span style="font-family:'DejaVu Sans',sans-serif;font-size:16px;font-weight:normal;letter-spacing:0.75px">Informat</span></div>

</body></html>
